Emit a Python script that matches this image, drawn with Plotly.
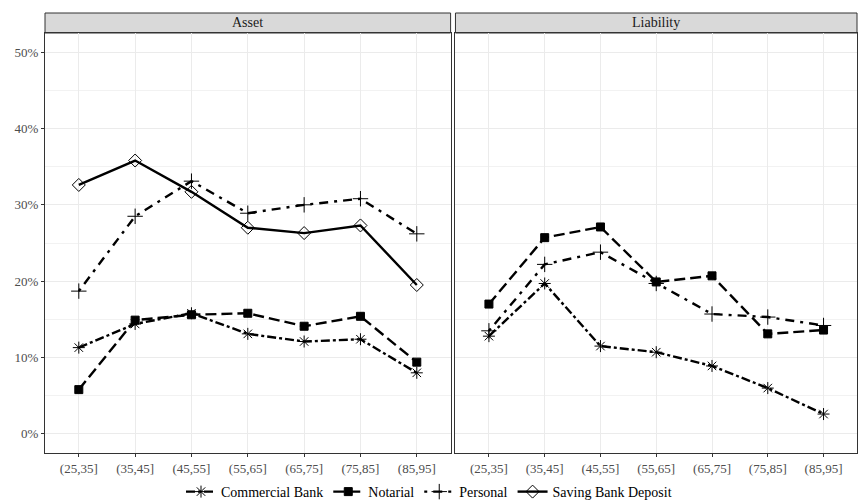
import plotly.graph_objects as go
from plotly.subplots import make_subplots

age_groups = ["(25,35]", "(35,45]", "(45,55]", "(55,65]", "(65,75]", "(75,85]", "(85,95]"]
panels = ["Asset", "Liability"]

asset_commercial = [11.3, 14.4, 15.8, 13.1, 12.1, 12.4, 8.0]
asset_notarial = [5.8, 14.9, 15.6, 15.8, 14.1, 15.4, 9.4]
asset_personal = [18.7, 28.5, 33.1, 28.9, 30.0, 30.8, 26.2]
asset_saving = [32.6, 35.8, 31.7, 27.0, 26.3, 27.3, 19.5]

liab_commercial = [12.8, 19.7, 11.5, 10.7, 8.9, 6.0, 2.6]
liab_notarial = [17.0, 25.7, 27.1, 19.9, 20.7, 13.1, 13.6]
liab_personal = [13.5, 22.2, 23.8, 19.7, 15.7, 15.3, 14.2]

FONT = "Liberation Serif"
INK = "black"

styles = {
    "Commercial Bank": dict(dash="9px,3px,3px,3px", symbol="asterisk-open", size=10),
    "Notarial": dict(dash="11px,5px", symbol="square", size=8),
    "Personal": dict(dash="3px,6px,9px,6px", symbol="cross-thin-open", size=11),
    "Saving Bank Deposit": dict(dash="solid", symbol="diamond-open", size=10),
}

series = {
    "Asset": [("Commercial Bank", asset_commercial), ("Notarial", asset_notarial),
              ("Personal", asset_personal), ("Saving Bank Deposit", asset_saving)],
    "Liability": [("Commercial Bank", liab_commercial), ("Notarial", liab_notarial),
                  ("Personal", liab_personal)],
}

fig = make_subplots(rows=1, cols=2, shared_yaxes=True, horizontal_spacing=0.005)

xs = list(range(len(age_groups)))
for col, panel in enumerate(panels, start=1):
    for name, vals in series[panel]:
        st = styles[name]
        fig.add_trace(
            go.Scatter(
                x=xs, y=[v / 100 for v in vals], mode="lines+markers", name=name,
                legendgroup=name, showlegend=(col == 1),
                line=dict(color=INK, width=2.4, dash=st["dash"]),
                marker=dict(symbol=st["symbol"], size=st["size"], color=INK,
                            line=dict(color=INK, width=1)),
            ),
            row=1, col=col,
        )

grid = "#EBEBEB"
plot_top = 420 / 440
for col in (1, 2):
    fig.update_xaxes(
        row=1, col=col, range=[-0.6, 6.6], tickvals=xs, ticktext=age_groups,
        showgrid=True, gridcolor=grid, gridwidth=1, zeroline=False,
        showline=True, linecolor="#333333", linewidth=1, mirror=True,
        ticks="outside", ticklen=3, tickcolor="#333333",
        tickfont=dict(family=FONT, size=13, color="#4D4D4D"),
    )
    fig.update_yaxes(
        row=1, col=col, range=[-0.025, 0.525], dtick=0.1, tickformat=".0%",
        domain=[0, plot_top],
        showgrid=True, gridcolor=grid, gridwidth=1, zeroline=False,
        minor=dict(dtick=0.05, showgrid=True, gridcolor="#F2F2F2", gridwidth=0.6),
        showline=True, linecolor="#333333", linewidth=1, mirror=True,
        ticks="outside" if col == 1 else "", ticklen=3, tickcolor="#333333",
        tickfont=dict(family=FONT, size=13, color="#4D4D4D"),
    )
fig.update_xaxes(domain=[0, 0.4995], row=1, col=1)
fig.update_xaxes(domain=[0.5055, 1], row=1, col=2)

# facet strips
for dom, label in ((fig.layout.xaxis.domain, "Asset"), (fig.layout.xaxis2.domain, "Liability")):
    fig.add_shape(type="rect", xref="paper", yref="paper", x0=dom[0], x1=dom[1],
                  y0=plot_top, y1=1, fillcolor="#D9D9D9",
                  line=dict(color="#333333", width=1), layer="below")
    fig.add_annotation(xref="paper", yref="paper", x=(dom[0] + dom[1]) / 2,
                       y=(plot_top + 1) / 2, xanchor="center", yanchor="middle",
                       text=label, showarrow=False,
                       font=dict(family=FONT, size=14, color="#1A1A1A"))

fig.update_layout(
    width=858, height=504,
    margin=dict(l=45, r=1, t=13, b=51, autoexpand=False),
    paper_bgcolor="white", plot_bgcolor="white",
    font=dict(family=FONT, color="black"),
    legend=dict(orientation="h", xref="container", yref="container",
                x=0.5, xanchor="center", y=12 / 504, yanchor="middle",
                font=dict(family=FONT, size=14, color="black"),
                itemwidth=30, tracegroupgap=0),
)

fig.write_html("out.html")
